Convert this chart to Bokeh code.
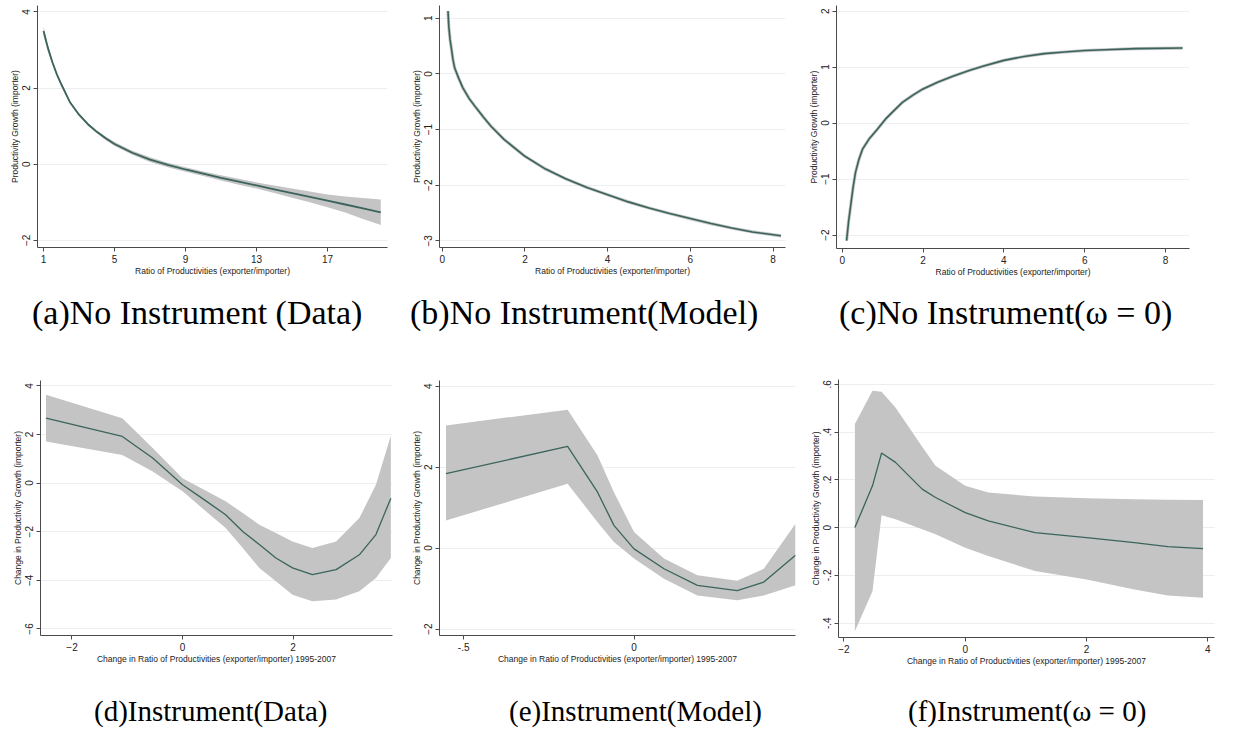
from bokeh.plotting import figure
from bokeh.models import FixedTicker, Range1d, Div
from bokeh.layouts import row, column
from bokeh.embed import file_html
from bokeh.resources import INLINE

# ---------------- data ----------------
# (a) No Instrument (Data)
x_a = [1.0, 1.25, 1.5, 1.75, 2.0, 2.5, 3.0, 3.5, 4.0, 4.5, 5, 6, 7, 8, 9, 10, 11, 12, 13, 14, 15, 16, 17, 18, 19, 20]
y_a = [3.5, 3.05, 2.68, 2.36, 2.1, 1.62, 1.3, 1.05, 0.85, 0.68, 0.53, 0.3, 0.12, -0.02, -0.14, -0.25, -0.36, -0.46, -0.56, -0.66, -0.76, -0.86, -0.96, -1.06, -1.16, -1.27]
lo_a = [3.36, 2.95, 2.61, 2.31, 2.05, 1.58, 1.26, 1.01, 0.81, 0.63, 0.48, 0.25, 0.06, -0.08, -0.2, -0.31, -0.43, -0.54, -0.64, -0.76, -0.88, -1.0, -1.13, -1.27, -1.44, -1.6]
hi_a = [3.62, 3.13, 2.74, 2.41, 2.15, 1.66, 1.34, 1.09, 0.89, 0.73, 0.58, 0.35, 0.18, 0.04, -0.08, -0.19, -0.29, -0.38, -0.48, -0.56, -0.64, -0.72, -0.8, -0.85, -0.89, -0.93]

# (b) No Instrument (Model)
x_b = [0.14, 0.16, 0.19, 0.22, 0.26, 0.30, 0.4, 0.5, 0.65, 0.82, 1.0, 1.18, 1.5, 2.0, 2.5, 3.0, 3.5, 4.0, 4.5, 5.0, 5.5, 6.0, 6.5, 7.0, 7.5, 8.19]
y_b = [1.13, 0.85, 0.62, 0.47, 0.26, 0.11, -0.08, -0.25, -0.44, -0.61, -0.78, -0.94, -1.18, -1.48, -1.71, -1.89, -2.04, -2.17, -2.30, -2.41, -2.51, -2.60, -2.69, -2.77, -2.84, -2.91]

# (c) No Instrument (omega = 0)
x_c = [0.11, 0.16, 0.21, 0.27, 0.33, 0.41, 0.5, 0.66, 0.87, 1.07, 1.25, 1.49, 1.75, 2.0, 2.36, 2.72, 3.14, 3.5, 4.0, 4.5, 5.0, 5.5, 6.0, 6.5, 7.27, 8.42]
y_c = [-2.1, -1.75, -1.48, -1.15, -0.88, -0.66, -0.47, -0.29, -0.11, 0.07, 0.2, 0.37, 0.5, 0.61, 0.73, 0.83, 0.94, 1.02, 1.12, 1.19, 1.24, 1.27, 1.295, 1.31, 1.33, 1.34]

# (d) Instrument (Data)
x_d = [-2.47, -1.09, -0.54, 0.0, 0.39, 0.78, 1.09, 1.39, 1.69, 1.99, 2.35, 2.78, 3.2, 3.5, 3.77]
y_d = [2.67, 1.92, 1.03, -0.07, -0.68, -1.30, -1.99, -2.53, -3.08, -3.49, -3.77, -3.56, -2.95, -2.12, -0.62]
hi_d = [3.63, 2.67, 1.44, 0.2, -0.27, -0.75, -1.23, -1.71, -2.05, -2.4, -2.67, -2.4, -1.44, -0.07, 1.95]
lo_d = [1.71, 1.16, 0.48, -0.34, -1.1, -1.85, -2.67, -3.49, -4.04, -4.59, -4.86, -4.79, -4.45, -3.9, -3.08]

# (e) Instrument (Model)
x_e = [-0.552, -0.195, -0.107, -0.059, 0.0, 0.088, 0.186, 0.303, 0.381, 0.474]
y_e = [1.84, 2.51, 1.38, 0.56, -0.02, -0.51, -0.92, -1.05, -0.84, -0.18]
hi_e = [3.03, 3.42, 2.29, 1.38, 0.4, -0.26, -0.67, -0.81, -0.51, 0.6]
lo_e = [0.68, 1.59, 0.64, 0.15, -0.26, -0.76, -1.17, -1.29, -1.17, -0.92]

# (f) Instrument (omega = 0)
x_f = [-1.82, -1.53, -1.38, -1.15, -0.71, -0.49, 0.0, 0.38, 1.15, 2.0, 2.79, 3.34, 3.92]
y_f = [0.0, 0.175, 0.312, 0.273, 0.161, 0.126, 0.063, 0.028, -0.021, -0.042, -0.063, -0.08, -0.088]
hi_f = [0.434, 0.573, 0.569, 0.503, 0.338, 0.259, 0.175, 0.147, 0.13, 0.123, 0.119, 0.117, 0.116]
lo_f = [-0.434, -0.266, 0.052, 0.035, -0.007, -0.028, -0.084, -0.119, -0.182, -0.217, -0.259, -0.284, -0.294]

# ticks and labels
xt_a = [1, 5, 9, 13, 17]
yt_a = [-2, 0, 2, 4]
xt_bc = [0, 2, 4, 6, 8]
yt_b = [-3, -2, -1, 0, 1]
yt_c = [-2, -1, 0, 1, 2]
xt_d = [-2, 0, 2]
yt_d = [-6, -4, -2, 0, 2, 4]
xt_e = [-0.5, 0]
xt_e_lab = {-0.5: "-.5", 0: "0"}
yt_e = [-2, 0, 2, 4]
xt_f = [-2, 0, 2, 4]
yt_f = [-0.4, -0.2, 0, 0.2, 0.4, 0.6]
yt_f_lab = {-0.4: "-.4", -0.2: "-.2", 0: "0", 0.2: ".2", 0.4: ".4", 0.6: ".6"}

XLAB_TOP = "Ratio of Productivities (exporter/importer)"
YLAB_TOP = "Productivity Growth (importer)"
XLAB_BOT = "Change in Ratio of Productivities (exporter/importer) 1995-2007"
YLAB_BOT = "Change in Productivity Growth (importer)"

captions = ["(a)No Instrument (Data)", "(b)No Instrument(Model)", "(c)No Instrument(\u03c9 = 0)",
            "(d)Instrument(Data)", "(e)Instrument(Model)", "(f)Instrument(\u03c9 = 0)"]

LINE = "#3a645c"
BAND = "#c4c4c4"
AXIS = "#4a4a4a"
GRID = "#eceef0"
SANS = "Liberation Sans"
SERIF = "Liberation Serif"


def panel(w, h, bl, br, bt, bb, xr, yr, xt, yt, xlab, ylab, xover=None, yover=None):
    p = figure(width=w, height=h, x_range=Range1d(*xr), y_range=Range1d(*yr),
               output_backend="svg", toolbar_location=None,
               min_border_left=bl, min_border_right=br, min_border_top=bt, min_border_bottom=bb,
               background_fill_color="white", border_fill_color="white")
    p.outline_line_color = None
    p.xgrid.grid_line_color = None
    p.ygrid.ticker = FixedTicker(ticks=yt)
    p.ygrid.grid_line_color = GRID
    p.ygrid.grid_line_width = 1
    p.xaxis.ticker = FixedTicker(ticks=xt)
    p.yaxis.ticker = FixedTicker(ticks=yt)
    if xover:
        p.xaxis.major_label_overrides = xover
    if yover:
        p.yaxis.major_label_overrides = yover
    for ax in (p.xaxis[0], p.yaxis[0]):
        ax.axis_line_color = AXIS
        ax.major_tick_line_color = AXIS
        ax.major_tick_out = 4
        ax.major_tick_in = 0
        ax.minor_tick_line_color = None
        ax.major_label_text_font = SANS
        ax.major_label_text_font_size = "10px"
        ax.major_label_text_color = "#222222"
        ax.major_label_standoff = 3
        ax.axis_label_text_font = SANS
        ax.axis_label_text_font_size = "8.5px"
        ax.axis_label_text_font_style = "normal"
        ax.axis_label_text_color = "#222222"
        ax.axis_label_standoff = 0
    p.yaxis.major_label_orientation = "vertical"
    p.xaxis.axis_label = xlab
    p.yaxis.axis_label = ylab
    return p


def caption(w, h, text, size, dx, dy):
    html = ('<div style="margin:0; padding:0; padding-left:%dpx; padding-top:%dpx; '
            'font-family:\'%s\', serif; font-size:%dpx; line-height:%dpx; '
            'white-space:nowrap; color:#000000;">%s</div>' % (dx, dy, SERIF, size, size, text))
    return Div(text=html, width=w, height=h, margin=(0, 0, 0, 0),
               styles={"overflow": "visible"})


# top row: plot 295 px + caption 73 px ; bottom row: plot 315 px + caption 55 px
pa = panel(405, 295, 45, 10, 13, 40, (0.66, 20.38), (-2.19, 4.17), xt_a, yt_a, XLAB_TOP, YLAB_TOP)
pa.varea(x=x_a, y1=lo_a, y2=hi_a, fill_color=BAND, fill_alpha=1)
pa.line(x_a, y_a, line_color=LINE, line_width=1.8)
ca = caption(405, 73, captions[0], 34, 40, 9)

pb = panel(407, 295, 42, 19, 13, 40, (-0.065, 8.3), (-3.12, 1.23), xt_bc, yt_b, XLAB_TOP, YLAB_TOP)
pb.line(x_b, y_b, line_color=BAND, line_width=3.2)
pb.line(x_b, y_b, line_color=LINE, line_width=1.6)
cb = caption(407, 73, captions[1], 34, 13, 9)

pc = panel(421, 295, 32, 36, 13, 39, (-0.14, 8.59), (-2.24, 2.1), xt_bc, yt_c, XLAB_TOP, YLAB_TOP)
pc.line(x_c, y_c, line_color=BAND, line_width=3.2)
pc.line(x_c, y_c, line_color=LINE, line_width=1.6)
cc = caption(421, 73, captions[2], 34, 35, 9)

pd = panel(405, 315, 48, 5, 20, 40, (-2.57, 3.8), (-6.27, 4.22), xt_d, yt_d, XLAB_BOT, YLAB_BOT)
pd.varea(x=x_d, y1=lo_d, y2=hi_d, fill_color=BAND, fill_alpha=1)
pd.line(x_d, y_d, line_color=LINE, line_width=1.3)
cd = caption(405, 55, captions[3], 29, 102, 22)

pe = panel(407, 315, 42, 9, 20, 40, (-0.571, 0.474), (-2.16, 4.14), xt_e, yt_e, XLAB_BOT, YLAB_BOT,
           xover=xt_e_lab)
pe.varea(x=x_e, y1=lo_e, y2=hi_e, fill_color=BAND, fill_alpha=1)
pe.line(x_e, y_e, line_color=LINE, line_width=1.3)
ce = caption(407, 55, captions[4], 29, 112, 22)

pf = panel(421, 315, 34, 11, 19, 38, (-2.09, 4.11), (-0.46, 0.62), xt_f, yt_f, XLAB_BOT, YLAB_BOT,
           yover=yt_f_lab)
pf.varea(x=x_f, y1=lo_f, y2=hi_f, fill_color=BAND, fill_alpha=1)
pf.line(x_f, y_f, line_color=LINE, line_width=1.3)
cf = caption(421, 55, captions[5], 29, 104, 22)

layout = column(
    row(column(pa, ca), column(pb, cb), column(pc, cc)),
    row(column(pd, cd), column(pe, ce), column(pf, cf)),
    margin=(-8, 0, 0, -8),
)

open("out.html", "w").write(file_html(layout, INLINE))
